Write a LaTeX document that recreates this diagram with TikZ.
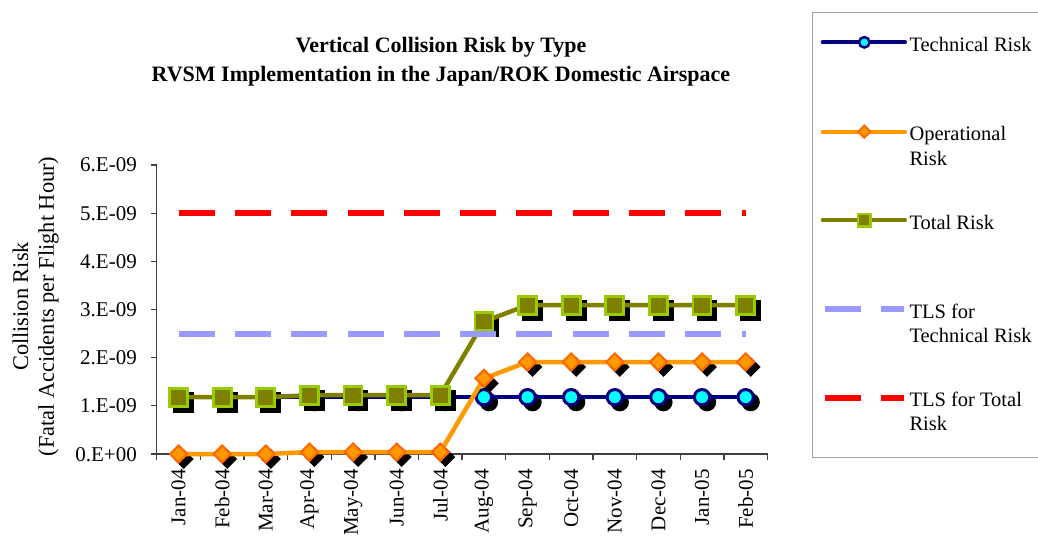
\documentclass[tikz,border=0pt]{standalone}
\usepackage{fontspec}
\setmainfont{Liberation Serif}
\usetikzlibrary{shapes.geometric}
\definecolor{navyc}{HTML}{000080}
\definecolor{cyanc}{HTML}{00FFFF}
\definecolor{orangec}{HTML}{FF9900}
\definecolor{orangeb}{HTML}{FF6600}
\definecolor{olivec}{HTML}{808000}
\definecolor{limec}{HTML}{99CC00}
\definecolor{tlsblue}{HTML}{9999FF}
\definecolor{tlsred}{HTML}{FF0000}
\definecolor{legborder}{HTML}{A0A0A0}
\definecolor{axisc}{HTML}{404040}
\newcommand\ttlfnt{\fontsize{22}{26}\selectfont\bfseries}
\newcommand\lblfnt{\fontsize{21}{25}\selectfont}
\newcommand\legfnt{\fontsize{20.5}{24}\selectfont}
\newcommand\ytfnt{\fontsize{22.4}{26}\selectfont}
\begin{document}
\begin{tikzpicture}[x=1pt,y=-1pt,
  serline/.style={line width=4.5pt,line cap=round,line join=round},
  techline/.style={serline,draw=navyc},
  opline/.style={serline,draw=orangec},
  totline/.style={serline,draw=olivec},
  techmark/.style={circle,draw=navyc,fill=cyanc,line width=3pt,minimum size=15.3pt,inner sep=0pt,outer sep=0pt},
  techshadow/.style={circle,fill=black,minimum size=18.3pt,inner sep=0pt},
  opmark/.style={diamond,aspect=1,draw=orangeb,fill=orangec,line width=2pt,minimum size=18pt,inner sep=0pt},
  opshadow/.style={diamond,aspect=1,fill=black,minimum size=20pt,inner sep=0pt},
  totmark/.style={rectangle,draw=limec,fill=olivec,line width=2.7pt,minimum size=18pt,inner sep=0pt},
  totshadow/.style={rectangle,fill=black,minimum size=20.7pt,inner sep=0pt},
  ltechmark/.style={techmark,line width=2.5pt,minimum size=10.5pt},
  lopmark/.style={opmark,line width=1.8pt,minimum size=13pt},
  ltotmark/.style={totmark,line width=2.5pt,minimum size=12.5pt},
  tlsline/.style={line width=6pt,dash pattern=on 36pt off 20.3pt},
  legline/.style={line width=6pt,dash pattern=on 36pt off 20pt},
  axisline/.style={draw=axisc,line width=1.3pt},
  lbl/.style={font=\lblfnt,inner sep=0pt},
  legtxt/.style={font=\legfnt,inner sep=0pt,anchor=base west},
  ttl/.style={font=\ttlfnt,inner sep=0pt,anchor=base},
  ytl/.style={font=\ytfnt,inner sep=0pt,rotate=90}
]
\useasboundingbox (0,0) rectangle (1038,538);
\fill[white] (0,0) rectangle (1038,538);

% title
\node[ttl] (title1) at (441,52.7) {Vertical Collision Risk by Type};
\node[ttl] (title2) at (441,81.3) {RVSM Implementation in the Japan/ROK Domestic Airspace};

% axis titles
\node[ytl] (ytitle1) at (20.5,306.5) {Collision Risk};
\begin{scope}
  \clip (0,157) rectangle (150,538);
  \node[ytl] (ytitle2) at (48.5,306.5) {(Fatal Accidents per Flight Hour)};
\end{scope}

% axes
\coordinate (O) at (156.8,454);
\coordinate (Ytop) at (156.8,165);
\coordinate (Xend) at (767.5,454);
\draw[axisline] (Ytop) -- (O) -- (Xend);
\foreach \k/\t in {0/0.E+00,1/1.E-09,2/2.E-09,3/3.E-09,4/4.E-09,5/5.E-09,6/6.E-09}{
  \coordinate (yt\k) at (156.8,{454-48.17*\k});
  \draw[axisline] (yt\k) -- ++(-6,0);
  \node[lbl,anchor=base east] (yl\k) at (137,{454-48.17*\k+7}) {\t};
}
\foreach \k in {0,...,14}{
  \coordinate (xt\k) at ({156.8+43.62*\k},454);
  \draw[axisline] (xt\k) -- ++(0,6);
}
\foreach \t [count=\i] in {Jan-04,Feb-04,Mar-04,Apr-04,May-04,Jun-04,Jul-04,Aug-04,Sep-04,Oct-04,Nov-04,Dec-04,Jan-05,Feb-05}{
  \node[lbl,rotate=90,anchor=east] (xl\i) at ({178.6+43.62*(\i-1)},469) {\t};
}

% data points
\foreach \v [count=\i] in {1.18,1.18,1.18,1.18,1.18,1.18,1.18,1.18,1.18,1.18,1.18,1.18,1.18,1.18}
  \coordinate (T\i) at ({178.6+43.62*(\i-1)},{454-48.17*\v});
\foreach \v [count=\i] in {0,0,0,0.04,0.04,0.04,0.04,1.57,1.91,1.91,1.91,1.91,1.91,1.91}
  \coordinate (P\i) at ({178.6+43.62*(\i-1)},{454-48.17*\v});
\foreach \v [count=\i] in {1.18,1.18,1.18,1.22,1.22,1.22,1.22,2.75,3.09,3.09,3.09,3.09,3.09,3.09}
  \coordinate (S\i) at ({178.6+43.62*(\i-1)},{454-48.17*\v});

% technical risk series
\foreach \i in {1,...,14} \node[techshadow] (tsh\i) at ([shift={(5,5)}]T\i) {};
\draw[techline] (T1) \foreach \i in {2,...,14}{ -- (T\i)};
\foreach \i in {1,...,14} \node[techmark] (tm\i) at (T\i) {};

% operational risk series
\foreach \i in {1,...,14} \node[opshadow] (psh\i) at ([shift={(5,5)}]P\i) {};
\draw[opline] (P1) \foreach \i in {2,...,14}{ -- (P\i)};
\foreach \i in {1,...,14} \node[opmark] (pm\i) at (P\i) {};

% total risk series
\foreach \i in {1,...,14} \node[totshadow] (ssh\i) at ([shift={(5,5)}]S\i) {};
\draw[totline] (S1) \foreach \i in {2,...,14}{ -- (S\i)};
\foreach \i in {1,...,14} \node[totmark] (sm\i) at (S\i) {};

% TLS lines
\coordinate (B1) at (178.6,333.6);
\coordinate (B2) at (745.7,333.6);
\draw[tlsline,draw=tlsblue] (B1) -- (B2);
\coordinate (R1) at (178.6,213.2);
\coordinate (R2) at (745.7,213.2);
\draw[tlsline,draw=tlsred] (R1) -- (R2);

% legend
\draw[legborder,line width=1pt] (812.7,12.3) rectangle (1060,457.3);
\coordinate (L1a) at (822.7,42.3); \coordinate (L1b) at (905,42.3);
\draw[techline,line width=4pt] (L1a) -- (L1b);
\node[ltechmark] (lm1) at (864.3,42.3) {};
\node[legtxt] (lt1) at (909.3,51.3) {Technical Risk};

\coordinate (L2a) at (822.7,131.7); \coordinate (L2b) at (905,131.7);
\draw[opline,line width=4pt] (L2a) -- (L2b);
\node[lopmark] (lm2) at (864.3,131.7) {};
\node[legtxt] (lt2a) at (909.3,140.5) {Operational};
\node[legtxt] (lt2b) at (909.3,165) {Risk};

\coordinate (L3a) at (822.7,220.3); \coordinate (L3b) at (905,220.3);
\draw[totline,line width=4pt] (L3a) -- (L3b);
\node[ltotmark] (lm3) at (864.3,220.3) {};
\node[legtxt] (lt3) at (909.3,229.2) {Total Risk};

\coordinate (L4a) at (825,309); \coordinate (L4b) at (904,309);
\draw[legline,draw=tlsblue] (L4a) -- (L4b);
\node[legtxt] (lt4a) at (909.3,318) {TLS for};
\node[legtxt] (lt4b) at (909.3,342) {Technical Risk};

\coordinate (L5a) at (825,397.7); \coordinate (L5b) at (904,397.7);
\draw[legline,draw=tlsred] (L5a) -- (L5b);
\node[legtxt] (lt5a) at (909.3,406.7) {TLS for Total};
\node[legtxt] (lt5b) at (909.3,430.7) {Risk};
\end{tikzpicture}
\end{document}
